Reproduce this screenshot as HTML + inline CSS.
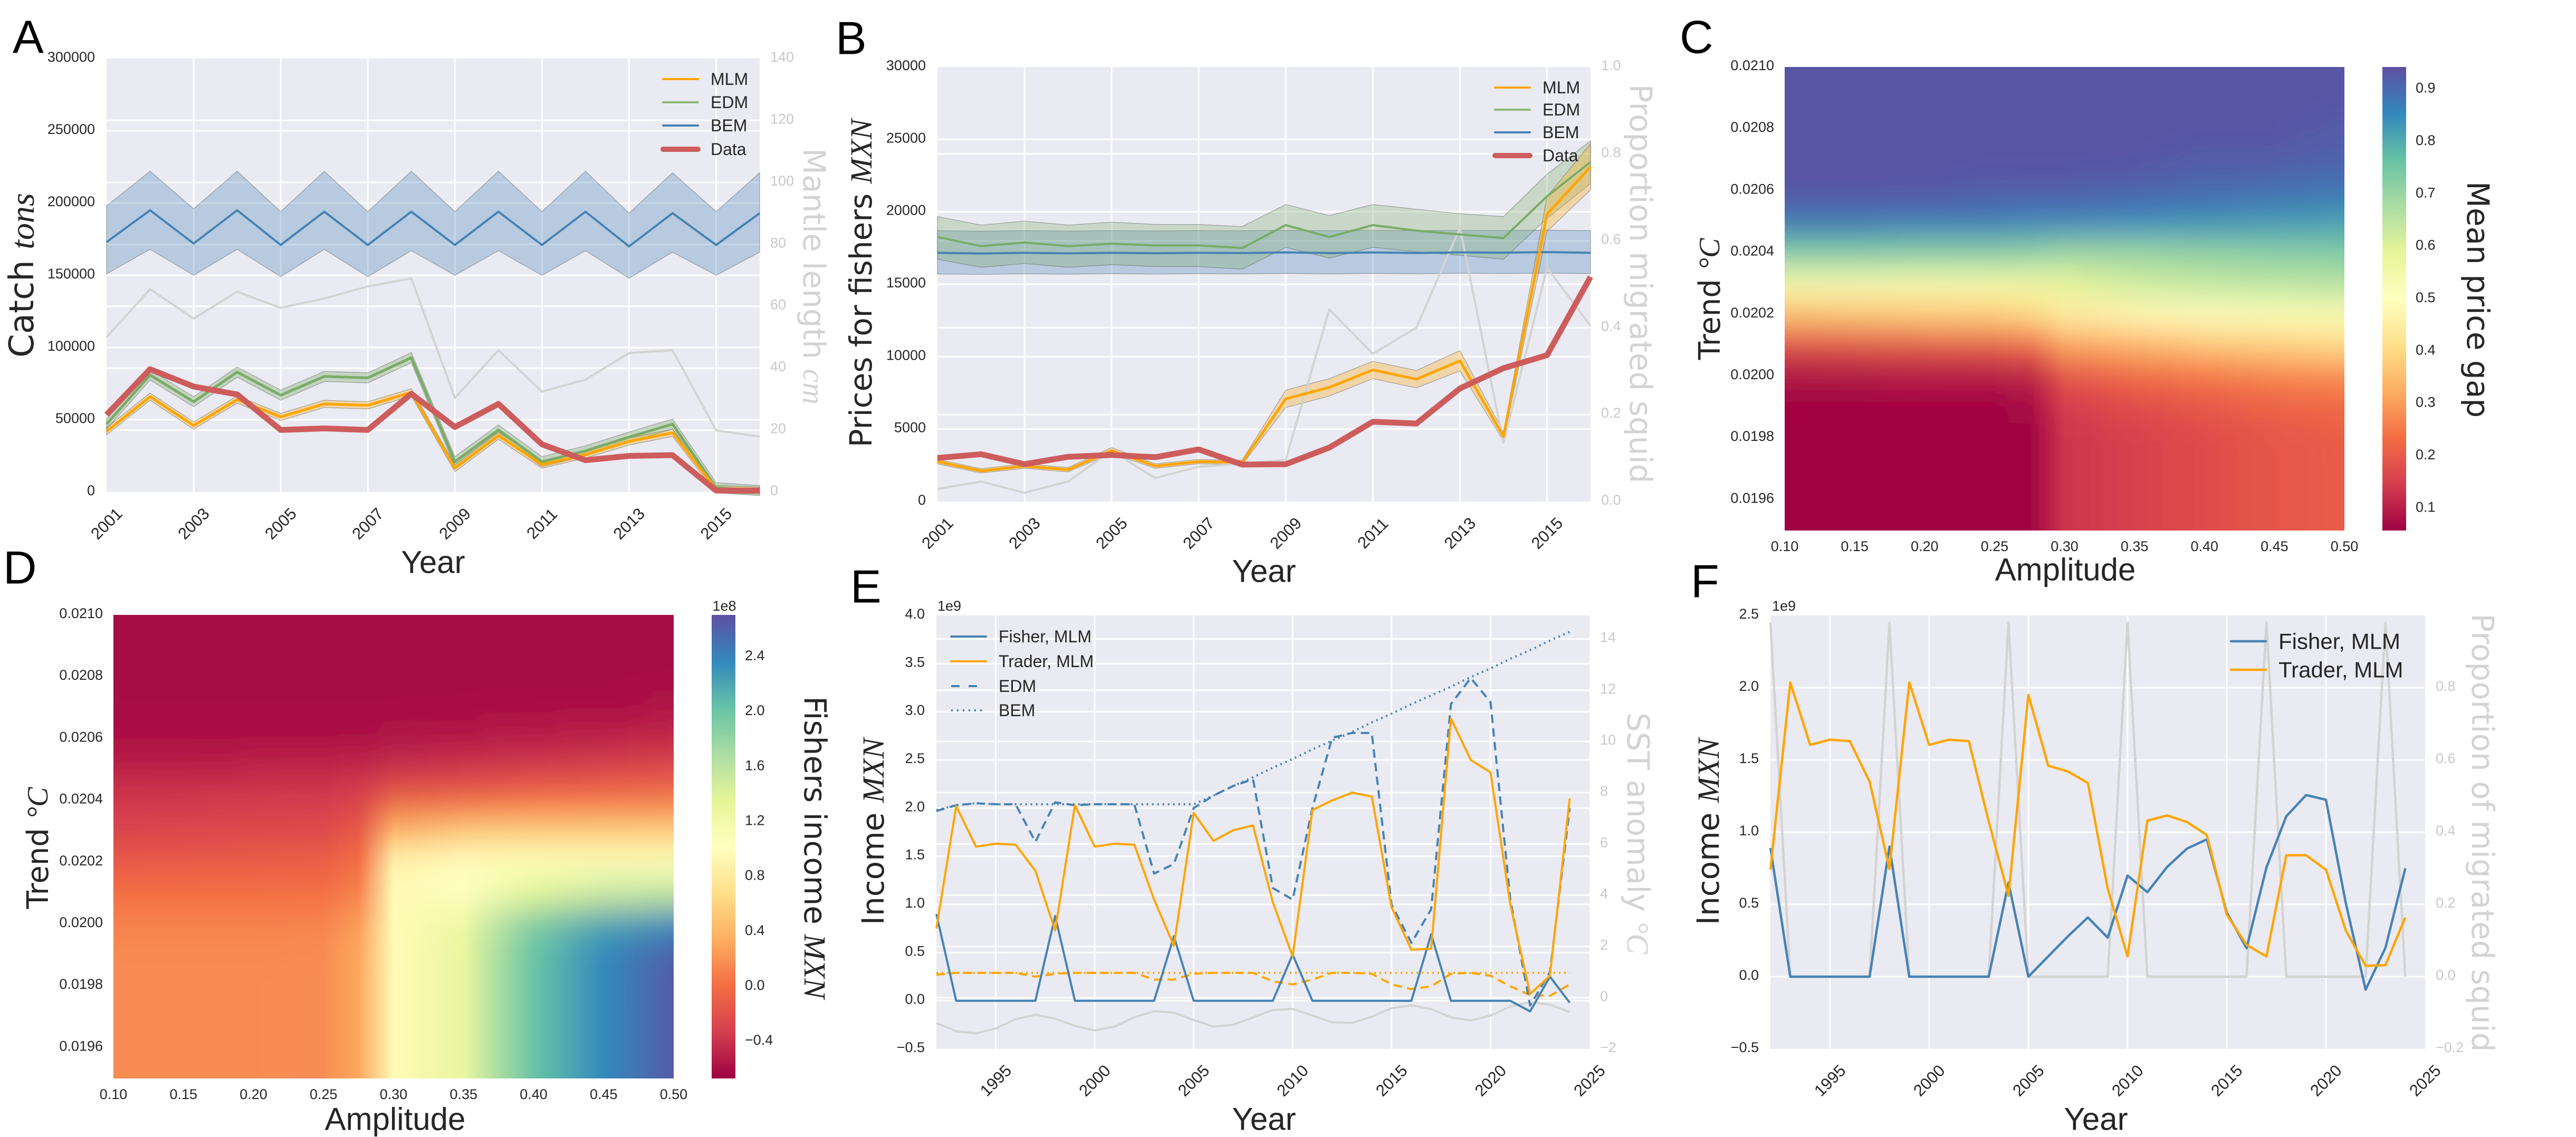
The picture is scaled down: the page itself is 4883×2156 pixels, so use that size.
<!DOCTYPE html>
<html><head><meta charset="utf-8"><title>Squid model figure</title>
<style>
html,body{margin:0;padding:0;background:#fff;}
#fig{display:block;}
</style></head>
<body>
<svg id="fig" xmlns="http://www.w3.org/2000/svg" width="4883" height="2156" viewBox="0 0 4883 2156">
<defs>
<filter id="vblurC" x="0" y="-0.05" width="1" height="1.1"><feGaussianBlur stdDeviation="0 30" edgeMode="duplicate"/></filter>
<filter id="vblurD" x="0" y="-0.05" width="1" height="1.1"><feGaussianBlur stdDeviation="0 30" edgeMode="duplicate"/></filter>
<clipPath id="clipC"><rect x="3383" y="127" width="1061" height="879"/></clipPath>
<clipPath id="clipD"><rect x="215" y="1166" width="1062" height="879"/></clipPath>
</defs>
</svg>
<script>
// ---------------- DATA ----------------
// Panel A
const A_years = [2001,2002,2003,2004,2005,2006,2007,2008,2009,2010,2011,2012,2013,2014,2015,2016];
const A_bem   = [173000,195000,172000,195000,171000,194000,171000,194000,171000,194000,171000,194000,170000,193000,171000,193000];
const A_bemHi = [198000,222000,196000,222000,194000,222000,194000,222000,194000,222000,194000,222000,193000,221000,194000,221000];
const A_bemLo = [151000,168000,150000,168000,149000,168000,149000,167000,150000,167000,150000,167000,148000,166000,150000,166000];
const A_edm   = [47000,81000,62500,83000,67000,80000,79000,93000,21000,43000,21000,28500,38000,47000,3000,1000];
const A_mlm   = [42000,66000,46000,64000,52000,61000,60000,69000,16500,39000,19000,26000,35000,41000,2000,1000];
const A_data  = [53500,85000,73000,67500,43000,44000,43000,68000,45000,61000,33000,22000,25000,25500,1000,1000];
const A_mantle= [50,65.5,56,64.7,59.5,62.5,66.4,69,30.4,45.8,32.4,36.3,44.9,45.8,19.9,17.9];
// Panel B
const B_years = [2001,2002,2003,2004,2005,2006,2007,2008,2009,2010,2011,2012,2013,2014,2015,2016];
const B_edm   = [18265,17630,17880,17630,17800,17680,17680,17500,19080,18265,19080,18700,18440,18190,21070,23440];
const B_edmHi = [19670,19080,19360,19080,19290,19130,19130,18980,20510,19740,20510,20180,19870,19670,22600,24900];
const B_edmLo = [16730,16170,16430,16170,16350,16220,16220,16040,17550,16810,17550,17240,16990,16730,19540,21960];
const B_bem   = [17170,17120,17170,17130,17170,17140,17170,17150,17200,17150,17200,17160,17200,17180,17220,17170];
const B_bemHi = [18700,18660,18700,18670,18700,18680,18700,18690,18720,18690,18720,18700,18720,18710,18740,18700];
const B_bemLo = [15710,15680,15720,15690,15730,15700,15730,15710,15750,15710,15750,15720,15760,15740,15770,15730];
const B_mlm   = [2755,2117,2449,2194,3520,2449,2755,2704,7092,7883,9082,8444,9719,4490,19847,23112];
const B_mlmErr= [150,150,150,150,200,150,150,150,600,600,600,600,700,300,1200,1600];
const B_data  = [3010,3265,2577,3087,3214,3061,3597,2551,2577,3724,5510,5383,7806,9209,10102,15510];
const B_prop  = [0.029,0.046,0.02,0.046,0.117,0.054,0.08,0.087,0.096,0.442,0.34,0.40,0.63,0.135,0.538,0.404];
// Panel C heatmap (rows = trend, top to bottom; cols = amplitude)
const C_amps   = [0.10,0.15,0.20,0.25,0.275,0.30,0.35,0.40,0.45,0.50];
const C_trends = [0.0210,0.0209,0.0208,0.0207,0.0206,0.0205,0.0204,0.0203,0.0202,0.0201,0.0200,0.0199,0.0198,0.0197,0.0196,0.0195];
const C_values = [
 [.93,.93,.93,.93,.93,.93,.93,.93,.93,.93],
 [.93,.93,.93,.93,.93,.93,.93,.93,.93,.93],
 [.93,.93,.93,.93,.93,.93,.93,.93,.93,.92],
 [.93,.93,.93,.93,.93,.93,.93,.92,.92,.91],
 [.93,.93,.93,.92,.92,.92,.91,.90,.89,.88],
 [.88,.88,.87,.87,.86,.86,.85,.84,.83,.82],
 [.74,.74,.73,.73,.72,.70,.70,.71,.72,.73],
 [.53,.53,.53,.54,.55,.58,.62,.64,.65,.66],
 [.35,.36,.37,.38,.40,.45,.48,.50,.51,.52],
 [.17,.18,.19,.20,.22,.30,.33,.36,.38,.40],
 [.08,.08,.09,.09,.10,.18,.22,.24,.26,.27],
 [.06,.06,.06,.06,.07,.14,.17,.19,.21,.22],
 [.06,.06,.06,.06,.06,.13,.15,.17,.19,.20],
 [.06,.06,.06,.06,.06,.13,.15,.17,.19,.20],
 [.06,.06,.06,.06,.06,.13,.15,.17,.19,.20],
 [.06,.06,.06,.06,.06,.13,.15,.17,.19,.20]
];
const C_cbarTicks = [0.1,0.2,0.3,0.4,0.5,0.6,0.7,0.8,0.9];
// Panel D heatmap (1e8)
const D_amps   = [0.10,0.15,0.20,0.25,0.275,0.30,0.35,0.40,0.45,0.50];
const D_trends = [0.0210,0.0209,0.0208,0.0207,0.0206,0.0205,0.0204,0.0203,0.0202,0.0201,0.0200,0.0199,0.0198,0.0197,0.0196,0.0195];
const D_values = [
 [-.63,-.63,-.63,-.63,-.63,-.63,-.63,-.63,-.63,-.63],
 [-.63,-.63,-.63,-.63,-.63,-.63,-.63,-.63,-.63,-.63],
 [-.63,-.63,-.63,-.63,-.63,-.63,-.63,-.63,-.63,-.62],
 [-.62,-.62,-.62,-.62,-.62,-.62,-.61,-.60,-.60,-.58],
 [-.60,-.60,-.60,-.60,-.60,-.58,-.55,-.52,-.50,-.46],
 [-.50,-.50,-.48,-.47,-.45,-.42,-.38,-.35,-.30,-.26],
 [-.38,-.37,-.36,-.35,-.30,-.10,-.05,0.00,0.02,0.05],
 [-.30,-.28,-.27,-.25,-.15,0.35,0.50,0.55,0.55,0.55],
 [-.15,-.14,-.12,-.10,0.00,0.90,1.00,1.05,1.05,1.05],
 [0.00,0.00,0.00,0.00,0.10,0.95,1.00,1.35,1.50,1.55],
 [0.10,0.10,0.10,0.12,0.25,0.95,1.25,1.90,2.20,2.35],
 [0.15,0.15,0.15,0.16,0.30,0.95,1.30,2.00,2.35,2.60],
 [0.15,0.15,0.15,0.16,0.30,0.95,1.30,2.00,2.35,2.62],
 [0.15,0.15,0.15,0.16,0.30,0.95,1.30,2.00,2.35,2.62],
 [0.15,0.15,0.15,0.16,0.30,0.95,1.30,2.00,2.35,2.62],
 [0.15,0.15,0.15,0.16,0.30,0.95,1.30,2.00,2.35,2.62]
];
const D_cbarTicks = [-0.4,0.0,0.4,0.8,1.2,1.6,2.0,2.4];
const HM_xTicks = [0.10,0.15,0.20,0.25,0.30,0.35,0.40,0.45,0.50];
const HM_yTicks = [0.0196,0.0198,0.0200,0.0202,0.0204,0.0206,0.0208,0.0210];
// Panel E (1e9)
const E_years = [1992,1993,1994,1995,1996,1997,1998,1999,2000,2001,2002,2003,2004,2005,2006,2007,2008,2009,2010,2011,2012,2013,2014,2015,2016,2017,2018,2019,2020,2021,2022,2023,2024];
const E_fisher= [0.9,0,0,0,0,0,0.88,0,0,0,0,0,0.67,0,0,0,0,0,0.48,0,0,0,0,0,0,0.69,0,0,0,0,-0.11,0.25,-0.02];
const E_trader= [0.75,2.02,1.6,1.63,1.62,1.35,0.73,2.03,1.6,1.63,1.62,1.05,0.57,1.95,1.66,1.77,1.82,1.02,0.46,1.98,2.08,2.16,2.12,0.97,0.53,0.54,2.93,2.5,2.37,1.0,0.07,0.26,2.1];
const E_edm   = [1.97,2.03,2.05,2.04,2.04,1.65,2.06,2.03,2.04,2.04,2.04,1.32,1.42,2.0,2.13,2.23,2.3,1.17,1.05,2.0,2.73,2.78,2.78,1.0,0.6,0.95,3.08,3.35,3.1,1.05,-0.05,0.3,2.0];
const E_bem   = [1.98,2.03,2.05,2.04,2.04,2.04,2.04,2.04,2.04,2.04,2.04,2.04,2.04,2.04,2.13,2.23,2.32,2.42,2.51,2.61,2.70,2.79,2.89,2.98,3.08,3.17,3.26,3.36,3.45,3.55,3.64,3.74,3.83];
const E_traderEdm = [0.27,0.29,0.29,0.29,0.29,0.25,0.28,0.29,0.29,0.29,0.29,0.22,0.22,0.28,0.29,0.29,0.29,0.2,0.17,0.22,0.29,0.29,0.28,0.17,0.12,0.15,0.28,0.29,0.26,0.15,0.06,0.05,0.17];
const E_traderBem = [0.29,0.29,0.29,0.29,0.29,0.29,0.29,0.29,0.29,0.29,0.29,0.29,0.29,0.29,0.29,0.29,0.29,0.29,0.29,0.29,0.29,0.29,0.29,0.29,0.29,0.29,0.29,0.29,0.29,0.29,0.29,0.29,0.29];
const E_sst   = [-0.99,-1.31,-1.39,-1.2,-0.84,-0.66,-0.82,-1.1,-1.28,-1.13,-0.77,-0.53,-0.58,-0.87,-1.13,-1.06,-0.77,-0.48,-0.44,-0.7,-0.96,-0.99,-0.74,-0.41,-0.3,-0.44,-0.77,-0.89,-0.7,-0.34,-0.17,-0.27,-0.56];
// Panel F (1e9)
const F_years = [1992,1993,1994,1995,1996,1997,1998,1999,2000,2001,2002,2003,2004,2005,2006,2007,2008,2009,2010,2011,2012,2013,2014,2015,2016,2017,2018,2019,2020,2021,2022,2023,2024];
const F_fisher= [0.89,0,0,0,0,0,0.9,0,0,0,0,0,0.65,0,0.14,0.28,0.41,0.27,0.7,0.585,0.76,0.887,0.95,0.445,0.197,0.756,1.11,1.257,1.224,0.51,-0.09,0.2,0.75];
const F_trader= [0.74,2.036,1.604,1.64,1.63,1.35,0.746,2.036,1.604,1.64,1.63,1.075,0.56,1.95,1.46,1.42,1.34,0.61,0.14,1.08,1.116,1.07,0.98,0.43,0.22,0.14,0.84,0.84,0.74,0.32,0.075,0.08,0.41];
const F_prop  = [0.98,0,0,0,0,0,0.98,0,0,0,0,0,0.98,0,0,0,0,0,0.98,0,0,0,0,0,0,0.98,0,0,0,0,0,0.98,0];

// ---------------- HELPERS ----------------
const NS='http://www.w3.org/2000/svg';
const svg=document.getElementById('fig');
const SANS='"Liberation Sans", "DejaVu Sans", sans-serif';
const WIDE='"DejaVu Sans", "Liberation Sans", sans-serif';
const SERIF='"Liberation Serif", "DejaVu Serif", serif';
const BG='#eaeaf2', ORANGE='#ffa500', GREEN='#7aab66', BLUE='#4682b4', RED='#cd5c5c', GRAY='#d3d3d3', TXT='#262626', RTXT='#c8c8c8';
function mk(parent, tag, attrs, name){
  const el=document.createElementNS(NS,tag);
  for(const k in attrs) el.setAttribute(k, attrs[k]);
  
  
  parent.appendChild(el);
  return el;
}
function lin(d0,d1,r0,r1){return v=>r0+(v-d0)/(d1-d0)*(r1-r0);}
function tx(parent,x,y,s,o,name){
  o=o||{};
  const a={x:x,y:y,'font-family':o.ff||SANS,'font-size':o.fs||27,fill:o.fill||TXT,'text-anchor':o.anchor||'middle','dominant-baseline':'central'};
  if(o.rot) a.transform='rotate('+o.rot+' '+x+' '+y+')';
  const el=mk(parent,'text',a,name);
  if(Array.isArray(s)){
    s.forEach(p=>{const t=document.createElementNS(NS,'tspan'); t.textContent=p[0]; if(p[1]){t.setAttribute('font-family',SERIF);t.setAttribute('font-style','italic');} el.appendChild(t);});
  } else el.textContent=s;
  return el;
}
function pathD(xs,ys,X,Y){return xs.map((x,i)=>(i?'L':'M')+X(x).toFixed(1)+' '+Y(ys[i]).toFixed(1)).join(' ');}
function line(g,xs,ys,X,Y,st,name){
  return mk(g,'path',{d:pathD(xs,ys,X,Y),fill:'none',stroke:st.c,'stroke-width':st.w,'stroke-linejoin':'round','stroke-linecap':st.cap||'butt','stroke-dasharray':st.dash||'none'},name);
}
function band(g,xs,hi,lo,X,Y,fill,name){
  let d=xs.map((x,i)=>(i?'L':'M')+X(x).toFixed(1)+' '+Y(hi[i]).toFixed(1)).join(' ');
  for(let i=xs.length-1;i>=0;i--) d+=' L'+X(xs[i]).toFixed(1)+' '+Y(lo[i]).toFixed(1);
  return mk(g,'path',{d:d+' Z',fill:fill,stroke:'rgba(90,90,90,0.5)','stroke-width':1.2},name);
}
function letter(x,y,s){
  tx(svg,x,y,s,{fs:88,fill:'#000',anchor:'start'},'panel-letter-'+s.toLowerCase());
}
function frame(g,P,name){mk(g,'rect',{x:P.L,y:P.T,width:P.R-P.L,height:P.B-P.T,fill:BG},name);}
function hgrid(g,vals,Y,P,name){vals.forEach(v=>mk(g,'line',{x1:P.L,x2:P.R,y1:Y(v),y2:Y(v),stroke:'#fff','stroke-width':3},name));}
function vgrid(g,vals,X,P,name){vals.forEach(v=>mk(g,'line',{x1:X(v),x2:X(v),y1:P.T,y2:P.B,stroke:'#fff','stroke-width':3},name));}
function yTicks(g,vals,Y,P,fmt,name){vals.forEach(v=>tx(g,P.L-22,Y(v)-3,fmt(v),{anchor:'end'},name));}
function rTicks(g,vals,Y,P,fmt,name){vals.forEach(v=>tx(g,P.R+20,Y(v)-3,fmt(v),{anchor:'start',fill:RTXT},name));}
function xTicksRot(g,vals,X,P,fmt,name){vals.forEach(v=>tx(g,X(v),P.B+60,fmt(v),{rot:-45,fs:31},name));}
function neg(s){return s.replace('-','\u2212');}
function legend(g,x,ys,items,fs){
  items.forEach((it,i)=>{
    mk(g,'line',{x1:x,x2:x+66,y1:ys[i],y2:ys[i],stroke:it.c,'stroke-width':it.w,'stroke-linecap':it.dash?'butt':'round','stroke-dasharray':it.dash||'none'},'legend-handle-'+it.n);
    tx(g,x+90,ys[i],it.label,{anchor:'start',fs:fs},'legend-label-'+it.n);
  });
}

// ---------------- PANEL A ----------------
(function(){
  const P={L:202,R:1440,T:111,B:933};
  const g=mk(svg,'g',{},'panel-a');
  const X=lin(2001,2016,P.L,P.R), Y=lin(0,300000,P.B,P.T), YR=lin(0,140,P.B,P.T);
  frame(g,P,'plot-background');
  hgrid(g,[50000,100000,150000,200000,250000],Y,P,'y-gridline');
  hgrid(g,[20,40,60,80,100,120],YR,P,'right-y-gridline');
  vgrid(g,[2003,2005,2007,2009,2011,2013,2015],X,P,'x-gridline');
  band(g,A_years,A_bemHi,A_bemLo,X,Y,'rgba(70,130,180,0.3)','bem-band');
  line(g,A_years,A_mantle,X,YR,{c:GRAY,w:4},'mantle-length-line');
  band(g,A_years,A_edm.map(v=>v+3500),A_edm.map(v=>v-3500),X,Y,'rgba(122,171,102,0.35)','edm-band');
  band(g,A_years,A_mlm.map(v=>v+2500),A_mlm.map(v=>v-2500),X,Y,'rgba(255,165,0,0.3)','mlm-band');
  line(g,A_years,A_bem,X,Y,{c:BLUE,w:4},'bem-line');
  line(g,A_years,A_edm,X,Y,{c:GREEN,w:5},'edm-line');
  line(g,A_years,A_mlm,X,Y,{c:ORANGE,w:5},'mlm-line');
  line(g,A_years,A_data,X,Y,{c:RED,w:11},'data-line');
  yTicks(g,[0,50000,100000,150000,200000,250000,300000],Y,P,v=>String(v),'y-tick-label');
  rTicks(g,[0,20,40,60,80,100,120,140],YR,P,v=>String(v),'right-y-tick-label');
  xTicksRot(g,[2001,2003,2005,2007,2009,2011,2013,2015],X,P,v=>String(v),'x-tick-label');
  tx(g,821,1066,'Year',{fs:60},'x-axis-title');
  tx(g,42,522,[['Catch '],['tons',1]],{fs:64,ff:WIDE,rot:-90},'y-axis-title');
  tx(g,1543,524,[['Mantle length '],['cm',1]],{fs:58,ff:WIDE,rot:90,fill:GRAY},'right-y-axis-title');
  legend(g,1257,[150,194,238,283],[{c:ORANGE,w:4,label:'MLM',n:'mlm'},{c:'#8db57a',w:4,label:'EDM',n:'edm'},{c:BLUE,w:4,label:'BEM',n:'bem'},{c:RED,w:10,label:'Data',n:'data'}],32);
})();
letter(24,70,'A');

// ---------------- PANEL B ----------------
(function(){
  const P={L:1777,R:3015,T:127,B:951};
  const g=mk(svg,'g',{},'panel-b');
  const X=lin(2001,2016,P.L,P.R), Y=lin(0,30000,P.B,P.T), YR=lin(0,1,P.B,P.T);
  frame(g,P,'plot-background');
  hgrid(g,[5000,10000,15000,20000,25000],Y,P,'y-gridline');
  hgrid(g,[0.2,0.4,0.6,0.8],YR,P,'right-y-gridline');
  vgrid(g,[2003,2005,2007,2009,2011,2013,2015],X,P,'x-gridline');
  band(g,B_years,B_bemHi,B_bemLo,X,Y,'rgba(70,130,180,0.3)','bem-band');
  band(g,B_years,B_edmHi,B_edmLo,X,Y,'rgba(122,171,102,0.3)','edm-band');
  band(g,B_years,B_mlm.map((v,i)=>v+B_mlmErr[i]),B_mlm.map((v,i)=>v-B_mlmErr[i]),X,Y,'rgba(255,165,0,0.3)','mlm-band');
  line(g,B_years,B_prop,X,YR,{c:GRAY,w:4},'proportion-migrated-line');
  line(g,B_years,B_bem,X,Y,{c:BLUE,w:4},'bem-line');
  line(g,B_years,B_edm,X,Y,{c:GREEN,w:4},'edm-line');
  line(g,B_years,B_mlm,X,Y,{c:ORANGE,w:5},'mlm-line');
  line(g,B_years,B_data,X,Y,{c:RED,w:11},'data-line');
  yTicks(g,[0,5000,10000,15000,20000,25000,30000],Y,P,v=>String(v),'y-tick-label');
  rTicks(g,[0,0.2,0.4,0.6,0.8,1.0],YR,P,v=>v.toFixed(1),'right-y-tick-label');
  xTicksRot(g,[2001,2003,2005,2007,2009,2011,2013,2015],X,P,v=>String(v),'x-tick-label');
  tx(g,2396,1083,'Year',{fs:60},'x-axis-title');
  tx(g,1632,537,[['Prices for fishers '],['MXN',1]],{fs:58,ff:WIDE,rot:-90},'y-axis-title');
  tx(g,3110,538,'Proportion migrated squid',{fs:58,ff:WIDE,rot:90,fill:GRAY},'right-y-axis-title');
  legend(g,2834,[166,208,251,295],[{c:ORANGE,w:4,label:'MLM',n:'mlm'},{c:'#8db57a',w:4,label:'EDM',n:'edm'},{c:BLUE,w:4,label:'BEM',n:'bem'},{c:RED,w:10,label:'Data',n:'data'}],32);
})();
letter(1584,72,'B');

// ---------------- HEATMAPS ----------------
const SPECTRAL=['#9e0142','#d53e4f','#f46d43','#fdae61','#fee08b','#ffffbf','#e6f598','#abdda4','#66c2a5','#3288bd','#5e4fa2'];
function hex(c){return [parseInt(c.substr(1,2),16),parseInt(c.substr(3,2),16),parseInt(c.substr(5,2),16)];}
function cmap(t){
  t=Math.max(0,Math.min(1,t)); const f=t*10, i=Math.min(9,Math.floor(f)), r=f-i;
  const a=hex(SPECTRAL[i]), b=hex(SPECTRAL[i+1]);
  return 'rgb('+a.map((v,k)=>Math.round(v+(b[k]-v)*r)).join(',')+')';
}
let gid=0;
function heatmap(P,amps,trends,values,vmin,vmax,clip,filt,cb,ticks,tfmt,name){
  const g=mk(svg,'g',{},name);
  const X=lin(0.10,0.50,P.L,P.R), Y=lin(0.0195,0.0210,P.B,P.T);
  const defs=svg.querySelector('defs');
  const cells=mk(g,'g',{'clip-path':'url(#'+clip+')'},'heatmap-cells');
  const inner=mk(cells,'g',{filter:'url(#'+filt+')'},'heatmap-rows');
  const step=Math.abs(Y(trends[1])-Y(trends[0]));
  values.forEach((row,i)=>{
    const id='hg'+(gid++);
    const lg=document.createElementNS(NS,'linearGradient');
    lg.setAttribute('id',id); lg.setAttribute('gradientUnits','userSpaceOnUse');
    lg.setAttribute('x1',P.L); lg.setAttribute('x2',P.R); lg.setAttribute('y1',0); lg.setAttribute('y2',0);
    row.forEach((v,j)=>{const s=document.createElementNS(NS,'stop'); s.setAttribute('offset',((X(amps[j])-P.L)/(P.R-P.L)).toFixed(4)); s.setAttribute('stop-color',cmap((v-vmin)/(vmax-vmin))); lg.appendChild(s);});
    defs.appendChild(lg);
    let y0=Y(trends[i])-step/2, h=step+1;
    if(i===0){y0-=80;h+=80;}
    if(i===values.length-1){h+=80;}
    mk(inner,'rect',{x:P.L,y:y0,width:P.R-P.L,height:h,fill:'url(#'+id+')'},'heatmap-row');
  });
  const cid='cb'+(gid++);
  const cg=document.createElementNS(NS,'linearGradient');
  cg.setAttribute('id',cid); cg.setAttribute('x1',0); cg.setAttribute('x2',0); cg.setAttribute('y1',1); cg.setAttribute('y2',0);
  SPECTRAL.forEach((c,i)=>{const s=document.createElementNS(NS,'stop'); s.setAttribute('offset',i/10); s.setAttribute('stop-color',c); cg.appendChild(s);});
  defs.appendChild(cg);
  mk(g,'rect',{x:cb.L,y:P.T,width:cb.R-cb.L,height:P.B-P.T,fill:'url(#'+cid+')'},'colorbar');
  const CY=lin(vmin,vmax,P.B,P.T);
  ticks.forEach(v=>tx(g,cb.R+18,CY(v),tfmt(v),{anchor:'start'},'colorbar-tick-label'));
  HM_xTicks.forEach(v=>tx(g,X(v),P.B+30,v.toFixed(2),{},'x-tick-label'));
  HM_yTicks.forEach(v=>tx(g,P.L-20,Y(v)-3,v.toFixed(4),{anchor:'end'},'y-tick-label'));
  return g;
}
(function(){
  const P={L:3383,R:4444,T:127,B:1006};
  const g=heatmap(P,C_amps,C_trends,C_values,0.055,0.94,'clipC','vblurC',{L:4516,R:4561},C_cbarTicks,v=>v.toFixed(1),'panel-c');
  tx(g,3915,1080,'Amplitude',{fs:60},'x-axis-title');
  tx(g,3241,567,[['Trend '],['\u00b0C',1]],{fs:56,ff:WIDE,rot:-90},'y-axis-title');
  tx(g,4697,568,'Mean price gap',{fs:58,ff:WIDE,rot:90},'colorbar-title');
})();
letter(3184,70,'C');
(function(){
  const P={L:215,R:1277,T:1166,B:2045};
  const g=heatmap(P,D_amps,D_trends,D_values,-0.68,2.696,'clipD','vblurD',{L:1349,R:1394},D_cbarTicks,v=>neg(v.toFixed(1)),'panel-d');
  tx(g,1373,1149,'1e8',{fs:27},'colorbar-exponent');
  tx(g,749,2122,'Amplitude',{fs:60},'x-axis-title');
  tx(g,72,1608,[['Trend '],['\u00b0C',1]],{fs:56,ff:WIDE,rot:-90},'y-axis-title');
  tx(g,1545,1607,[['Fishers income '],['MXN',1]],{fs:58,ff:WIDE,rot:90},'colorbar-title');
})();
letter(6,1076,'D');

// ---------------- PANEL E ----------------
(function(){
  const P={L:1775,R:3013,T:1167,B:1989};
  const g=mk(svg,'g',{},'panel-e');
  const X=lin(1992,2025,P.L,P.R), Y=lin(-0.5,4.0,P.B,P.T), YR=lin(-2,14.92,P.B,P.T);
  frame(g,P,'plot-background');
  hgrid(g,[0,0.5,1,1.5,2,2.5,3,3.5],Y,P,'y-gridline');
  hgrid(g,[0,2,4,6,8,10,12,14],YR,P,'right-y-gridline');
  vgrid(g,[1995,2000,2005,2010,2015,2020],X,P,'x-gridline');
  line(g,E_years,E_sst,X,YR,{c:GRAY,w:4},'sst-anomaly-line');
  line(g,E_years,E_traderBem,X,Y,{c:ORANGE,w:4,dash:'3 7'},'trader-bem-line');
  line(g,E_years,E_traderEdm,X,Y,{c:ORANGE,w:4,dash:'16 10'},'trader-edm-line');
  line(g,E_years,E_bem,X,Y,{c:BLUE,w:4,dash:'3 7'},'fisher-bem-line');
  line(g,E_years,E_edm,X,Y,{c:BLUE,w:4,dash:'16 10'},'fisher-edm-line');
  line(g,E_years,E_fisher,X,Y,{c:BLUE,w:4},'fisher-mlm-line');
  line(g,E_years,E_trader,X,Y,{c:ORANGE,w:4},'trader-mlm-line');
  yTicks(g,[-0.5,0,0.5,1,1.5,2,2.5,3,3.5,4],Y,P,v=>neg(v.toFixed(1)),'y-tick-label');
  rTicks(g,[-2,0,2,4,6,8,10,12,14],YR,P,v=>neg(String(v)),'right-y-tick-label');
  xTicksRot(g,[1995,2000,2005,2010,2015,2020,2025],X,P,v=>String(v),'x-tick-label');
  tx(g,1777,1149,'1e9',{anchor:'start'},'y-axis-exponent');
  tx(g,2396,2122,'Year',{fs:60},'x-axis-title');
  tx(g,1655,1577,[['Income '],['MXN',1]],{fs:58,ff:WIDE,rot:-90},'y-axis-title');
  tx(g,3105,1580,[['SST anomaly '],['\u00b0C',1]],{fs:58,ff:WIDE,rot:90,fill:GRAY},'right-y-axis-title');
  legend(g,1803,[1207,1254,1301,1347],[{c:BLUE,w:4,label:'Fisher, MLM',n:'fisher-mlm'},{c:ORANGE,w:4,label:'Trader, MLM',n:'trader-mlm'},{c:BLUE,w:4,dash:'16 17',label:'EDM',n:'edm'},{c:BLUE,w:4,dash:'3 8',label:'BEM',n:'bem'}],32);
})();
letter(1612,1112,'E');

// ---------------- PANEL F ----------------
(function(){
  const P={L:3356,R:4597,T:1167,B:1989};
  const g=mk(svg,'g',{},'panel-f');
  const X=lin(1992,2025,P.L,P.R), Y=lin(-0.5,2.5,P.B,P.T), YR=lin(-0.2,1.0,P.B,P.T);
  frame(g,P,'plot-background');
  hgrid(g,[0,0.5,1,1.5,2],Y,P,'y-gridline');
  vgrid(g,[1995,2000,2005,2010,2015,2020],X,P,'x-gridline');
  line(g,F_years,F_prop,X,YR,{c:GRAY,w:4.5},'proportion-migrated-line');
  line(g,F_years,F_fisher,X,Y,{c:BLUE,w:4.5},'fisher-mlm-line');
  line(g,F_years,F_trader,X,Y,{c:ORANGE,w:4.5},'trader-mlm-line');
  yTicks(g,[-0.5,0,0.5,1,1.5,2,2.5],Y,P,v=>neg(v.toFixed(1)),'y-tick-label');
  rTicks(g,[-0.2,0,0.2,0.4,0.6,0.8],YR,P,v=>neg(v.toFixed(1)),'right-y-tick-label');
  xTicksRot(g,[1995,2000,2005,2010,2015,2020,2025],X,P,v=>String(v),'x-tick-label');
  tx(g,3359,1149,'1e9',{anchor:'start'},'y-axis-exponent');
  tx(g,3973,2122,'Year',{fs:60},'x-axis-title');
  tx(g,3238,1577,[['Income '],['MXN',1]],{fs:58,ff:WIDE,rot:-90},'y-axis-title');
  tx(g,4706,1579,'Proportion of migrated squid',{fs:58,ff:WIDE,rot:90,fill:GRAY},'right-y-axis-title');
  legend(g,4229,[1216,1270],[{c:BLUE,w:4.5,label:'Fisher, MLM',n:'fisher-mlm'},{c:ORANGE,w:4.5,label:'Trader, MLM',n:'trader-mlm'}],42);
})();
letter(3205,1102,'F');
</script>
</body></html>
